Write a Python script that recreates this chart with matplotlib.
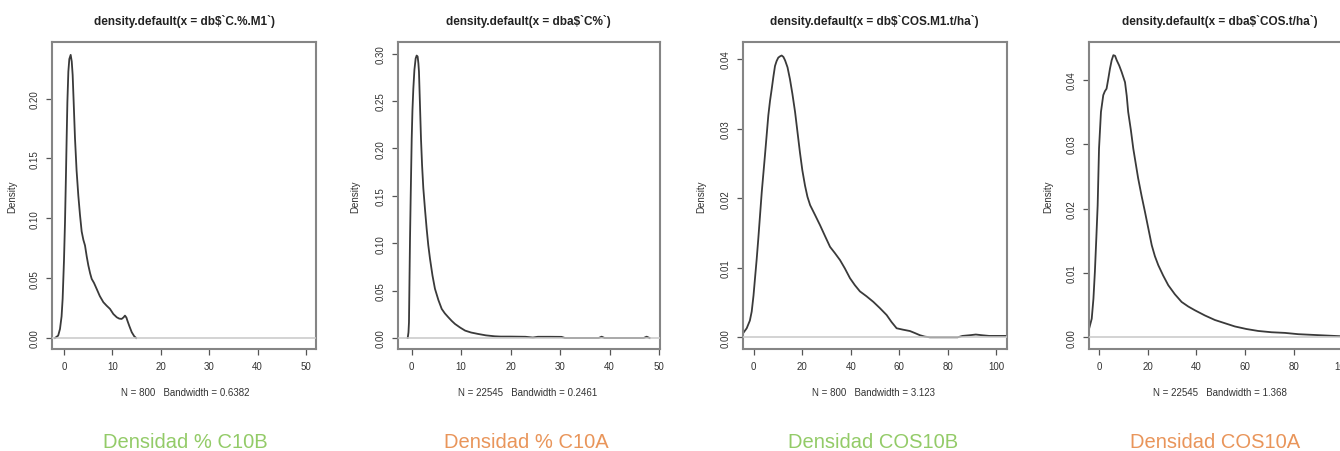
import matplotlib
matplotlib.use("Agg")
import matplotlib.pyplot as plt

# ---------------- data ----------------
titles = ["density.default(x = db$`C.%.M1`)", "density.default(x = dba$`C%`)",
          "density.default(x = db$`COS.M1.t/ha`)", "density.default(x = dba$`COS.t/ha`)"]
subtitles = ["N = 800   Bandwidth = 0.6382", "N = 22545   Bandwidth = 0.2461",
             "N = 800   Bandwidth = 3.123", "N = 22545   Bandwidth = 1.368"]
captions = ["Densidad % C10B", "Densidad % C10A", "Densidad COS10B", "Densidad COS10A"]

x1 = [-1.86, -1.2, -0.83, -0.5, -0.28, 0.0, 0.21, 0.4, 0.55, 0.7, 0.9, 1.1, 1.38, 1.6, 1.79, 2.0,
      2.27, 2.6, 2.96, 3.3, 3.65, 4.0, 4.34, 4.7, 5.03, 5.4, 5.72, 6.2, 6.75, 7.4, 8.13, 8.8, 9.5,
      10.2, 10.9, 11.4, 11.9, 12.3, 12.6, 12.9, 13.1, 13.5, 14.0, 14.5, 14.9]
y1 = [0.0, 0.002, 0.0075, 0.018, 0.0327, 0.065, 0.097, 0.135, 0.167, 0.197, 0.2225, 0.233, 0.2365,
      0.231, 0.2197, 0.197, 0.167, 0.140, 0.119, 0.103, 0.089, 0.082, 0.0773, 0.068, 0.0606, 0.054,
      0.0494, 0.046, 0.041, 0.035, 0.0299, 0.027, 0.0243, 0.020, 0.0173, 0.0162, 0.0159, 0.0172,
      0.0187, 0.017, 0.0145, 0.010, 0.0048, 0.0015, 0.0]

x2 = [-0.81, -0.65, -0.55, -0.45, -0.34, -0.2, 0.0, 0.15, 0.33, 0.55, 0.8, 1.0, 1.2, 1.35, 1.47,
      1.65, 1.88, 2.1, 2.35, 2.7, 3.03, 3.35, 3.7, 4.2, 4.7, 5.4, 6.07, 6.7, 7.4, 8.1, 8.76, 9.8,
      10.8, 12.0, 13.5, 15.0, 16.8, 18.0, 20.0, 23.0, 24.5, 25.5, 27.0, 28.0, 30.3, 31.0, 37.8, 38.4,
      39.0, 46.9, 47.5, 48.1]
y2 = [0.0, 0.006, 0.0166, 0.06, 0.105, 0.15, 0.21, 0.24, 0.263, 0.283, 0.295, 0.298, 0.297, 0.29,
      0.281, 0.25, 0.21, 0.182, 0.158, 0.135, 0.115, 0.098, 0.0836, 0.066, 0.052, 0.040, 0.0307,
      0.026, 0.0219, 0.018, 0.0148, 0.011, 0.0078, 0.0058, 0.0042, 0.0028, 0.0018, 0.0015, 0.0015,
      0.0013, 0.0005, 0.0013, 0.0013, 0.0013, 0.0012, 0.0, 0.0, 0.0014, 0.0, 0.0, 0.0014, 0.0]

x3 = [-4.9, -2.8, -1.5, -0.74, 0.0, 0.62, 1.3, 1.98, 2.7, 3.4, 4.1, 4.7, 5.4, 6.1, 6.8, 7.5, 8.2,
      8.85, 9.5, 10.2, 11.0, 11.6, 12.3, 13.0, 14.0, 15.0, 16.0, 17.1, 18.1, 19.1, 20.1, 21.2, 22.2,
      23.3, 25.3, 27.4, 29.5, 31.5, 33.5, 35.6, 37.6, 39.7, 41.7, 43.8, 46.5, 49.3, 52.0, 54.8,
      56.8, 58.9, 61.5, 64.4, 66.5, 68.5, 70.5, 72.6, 76.0, 84.0, 86.0, 89.0, 91.5, 94.0, 97.0,
      104.0]
y3 = [0.0003, 0.0013, 0.0024, 0.0037, 0.006, 0.0085, 0.0112, 0.0142, 0.0176, 0.0209, 0.0237, 0.0261,
      0.029, 0.0319, 0.034, 0.0357, 0.0375, 0.039, 0.0397, 0.0402, 0.0404, 0.0405, 0.0403, 0.0398,
      0.0388, 0.0371, 0.035, 0.0324, 0.0295, 0.0266, 0.024, 0.0218, 0.0202, 0.019, 0.0176, 0.0161,
      0.0145, 0.013, 0.0121, 0.0111, 0.0099, 0.0085, 0.0075, 0.0066, 0.0059, 0.0051, 0.0042,
      0.0032, 0.0022, 0.0013, 0.0011, 0.0009, 0.0006, 0.0003, 0.0001, 0.0, 0.0, 0.0, 0.0002, 0.0003,
      0.0004, 0.0003, 0.0002, 0.0002]

x4 = [-4.5, -3.1, -2.4, -1.8, -1.2, -0.66, -0.1, 0.7, 1.65, 2.3, 3.0, 3.7, 4.4, 5.1, 5.8, 6.5, 7.2,
      8.2, 9.2, 10.6, 11.3, 11.9, 13.0, 14.0, 15.0, 16.0, 17.4, 18.8, 20.2, 21.6, 22.9, 24.3, 26.3,
      28.4, 31.1, 33.9, 36.6, 39.4, 43.5, 47.6, 51.7, 55.8, 60.6, 65.4, 70.9, 76.4, 81.9, 87.4, 92.9,
      98.4, 104.0]
y4 = [0.0009, 0.0029, 0.006, 0.0102, 0.0155, 0.0205, 0.0293, 0.035, 0.0376, 0.0382, 0.0386, 0.0401,
      0.0417, 0.043, 0.0438, 0.0437, 0.043, 0.0422, 0.0412, 0.0396, 0.0375, 0.035, 0.0322, 0.0293,
      0.027, 0.0247, 0.022, 0.0195, 0.0169, 0.0143, 0.0126, 0.0112, 0.0096, 0.0081, 0.0067, 0.0055,
      0.0048, 0.0042, 0.0034, 0.0027, 0.0022, 0.0017, 0.0013, 0.001, 0.0008, 0.0007, 0.0005, 0.0004,
      0.0003, 0.0002, 0.0001]

yticks1 = [0.0, 0.05, 0.10, 0.15, 0.20]
yticks2 = [0.0, 0.05, 0.10, 0.15, 0.20, 0.25, 0.30]
yticks3 = [0.0, 0.01, 0.02, 0.03, 0.04]
yticks4 = [0.0, 0.01, 0.02, 0.03, 0.04]
xticks12 = [0, 10, 20, 30, 40, 50]
xticks34 = [0, 20, 40, 60, 80, 100]

# ---------------- layout ----------------
W, H = 1340, 452
fig = plt.figure(figsize=(W / 100, H / 100), dpi=100)
fig.patch.set_facecolor("white")

panels = [
    dict(x=x1, y=y1, box=(51.7, 316.0), xlim=(-2.54, 52.07), ylim=(-0.0092, 0.247),
         yt=yticks1, xt=xticks12, cx=185, dens_x=12),
    dict(x=x2, y=y2, box=(397.7, 660.0), xlim=(-2.83, 50.2), ylim=(-0.0116, 0.312),
         yt=yticks2, xt=xticks12, cx=528, dens_x=355),
    dict(x=x3, y=y3, box=(743.3, 1006.7), xlim=(-4.2, 104.2), ylim=(-0.00168, 0.0424),
         yt=yticks3, xt=xticks34, cx=874, dens_x=701.7),
    dict(x=x4, y=y4, box=(1089.3, 1352.7), xlim=(-4.1, 104.3), ylim=(-0.0018, 0.0458),
         yt=yticks4, xt=xticks34, cx=1220, dens_x=1048.3),
]
cap_cx = [185, 526, 873, 1215]
cap_col = ["#93cb68", "#e9955a", "#93cb68", "#e9955a"]

top_px, bot_px = 43.3, 350.0
txt_col = "#333333"
frame_col = "#858585"

for i, p in enumerate(panels):
    l, r = p["box"]
    ax = fig.add_axes([l / W, 1 - bot_px / H, (r - l) / W, (bot_px - top_px) / H])
    ax.plot(p["x"], p["y"], color="#3a3a3a", lw=1.3, zorder=2, solid_joinstyle="round")
    ax.axhline(0, color="#c8c8c8", lw=1.1, zorder=3)
    ax.set_xlim(*p["xlim"])
    ax.set_ylim(*p["ylim"])
    ax.set_xticks(p["xt"])
    ax.set_yticks(p["yt"])
    ax.set_xticklabels([str(v) for v in p["xt"]], fontsize=7, color=txt_col,
                       family="Liberation Sans")
    ax.set_yticklabels(["%.2f" % v for v in p["yt"]], fontsize=7, color=txt_col,
                       family="Liberation Sans", rotation=90, va="center")
    ax.tick_params(axis="both", direction="out", length=4, width=0.9, color="#555555")
    ax.tick_params(axis="x", pad=5)
    ax.tick_params(axis="y", pad=5)
    for s in ax.spines.values():
        s.set_color(frame_col)
        s.set_linewidth(1.5)
    cx = p["cx"]
    fig.text(cx / W, 1 - 22 / H, titles[i], ha="center", va="center", fontsize=8.5,
             fontweight="bold", color="#222222", family="Liberation Sans")
    fig.text(cx / W, 1 - 393 / H, subtitles[i], ha="center", va="center", fontsize=7,
             color=txt_col, family="Liberation Sans")
    fig.text(p["dens_x"] / W, 1 - 197 / H, "Density", ha="center", va="center", fontsize=7,
             rotation=90, color=txt_col, family="Liberation Sans")
    fig.text(cap_cx[i] / W, 1 - 443 / H, captions[i], ha="center", va="center", fontsize=14.5,
             color=cap_col[i], family="Liberation Sans", fontweight="normal")

fig.savefig("out.png", dpi=100, facecolor="white")
